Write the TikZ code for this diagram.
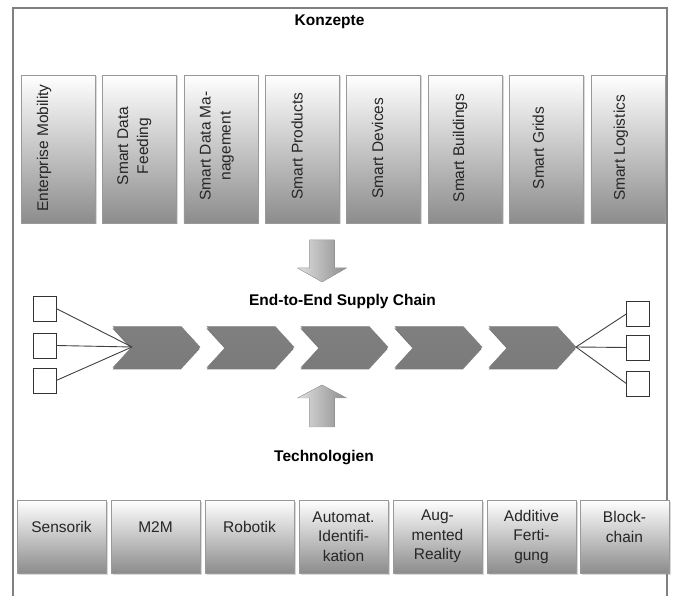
\documentclass[tikz,border=0pt]{standalone}
\usepackage{fontspec}
\setmainfont{Liberation Sans}
\usetikzlibrary{positioning,shapes.symbols,shadows}

\tikzset{
  konzept/.style={draw=black!40, top color=white, middle color=black!10, bottom color=black!45,
    minimum width=74pt, minimum height=148pt, inner sep=0pt,
    drop shadow={shadow xshift=1.5pt, shadow yshift=-1.5pt, opacity=0.3}},
  techbox/.style={draw=black!40, top color=white, middle color=black!10, bottom color=black!45,
    minimum width=89pt, minimum height=73pt, inner sep=0pt,
    drop shadow={shadow xshift=1.5pt, shadow yshift=-1.5pt, opacity=0.3}},
  ktext/.style={rotate=90, align=center, text=black!85, font=\fontsize{15.5}{20}\selectfont},
  ttext/.style={align=center, text=black!85, font=\fontsize{15.5}{19.5}\selectfont},
  titel/.style={font=\fontsize{15.5}{18}\selectfont\bfseries},
  chevron/.style={signal, signal from=west, signal to=east, signal pointer angle=95,
    minimum width=87pt, minimum height=41pt, inner sep=0pt, draw=black!50,
    top color=black!50, middle color=black!36, bottom color=black!52,
    drop shadow={shadow xshift=-0.5pt, shadow yshift=-2pt, fill=black!75, opacity=0.7}},
  kiste/.style={draw=black!80, fill=white, minimum width=23pt, minimum height=25pt, inner sep=0pt},
  wire/.style={draw=black!75, line width=0.9pt},
  blockpfeil/.style={draw=black!35, left color=black!12, right color=black!45},
  rahmen/.style={draw=black!50, line width=1.5pt}
}

\begin{document}
\begin{tikzpicture}[x=1pt,y=-1pt]
\useasboundingbox (0,0) rectangle (673,596);
\draw[rahmen] (13,596) -- (13,8) -- (667,8) -- (667,596);

% Konzepte
\node[titel] (konzepte) at (329.5,22) {Konzepte};
\node[konzept] (k1) at (58,149) {};
\node[konzept] (k2) at (139.4,149) {};
\node[konzept] (k3) at (220.8,149) {};
\node[konzept] (k4) at (302.2,149) {};
\node[konzept] (k5) at (383.6,149) {};
\node[konzept] (k6) at (465,149) {};
\node[konzept] (k7) at (546.4,149) {};
\node[konzept] (k8) at (627.8,149) {};
\node[ktext] (k1t) at ([xshift=-14pt,yshift=1pt]k1.center) {Enterprise Mobility};
\node[ktext] (k2t) at ([xshift=-5pt,yshift=3pt]k2.center) {Smart Data\\Feeding};
\node[ktext] (k3t) at ([xshift=-4pt,yshift=3pt]k3.center) {Smart Data Ma-\\nagement};
\node[ktext] (k4t) at ([xshift=-5pt,yshift=3pt]k4.center) {Smart Products};
\node[ktext] (k5t) at ([xshift=-6pt,yshift=1pt]k5.center) {Smart Devices};
\node[ktext] (k6t) at ([xshift=-5pt,yshift=1pt]k6.center) {Smart Buildings};
\node[ktext] (k7t) at ([xshift=-8pt,yshift=1pt]k7.center) {Smart Grids};
\node[ktext] (k8t) at ([xshift=-7pt,yshift=1pt]k8.center) {Smart Logistics};

% arrows into the chain
\coordinate (dpfeil) at (322,240);
\coordinate (upfeil) at (322,427);
\filldraw[blockpfeil] (dpfeil) ++(-12.5,0) -- ++(25,0) -- ++(0,28) -- ++(12,0) -- ++(-24.5,14)
  -- ++(-24.5,-14) -- ++(12,0) -- cycle;
\filldraw[blockpfeil] (upfeil) ++(-12.5,0) -- ++(25,0) -- ++(0,-29) -- ++(12,0) -- ++(-24.5,-13)
  -- ++(-24.5,13) -- ++(12,0) -- cycle;

\node[titel] (kette) at (342.5,301) {End-to-End Supply Chain};

% chain
\node[chevron] (c1) at (156.5,347) {};
\node[chevron] (c2) at (250.5,347) {};
\node[chevron] (c3) at (344.5,347) {};
\node[chevron] (c4) at (438.5,347) {};
\node[chevron] (c5) at (532.5,347) {};
\coordinate (notch) at ([xshift=-24.5pt]c1.center);
\coordinate (spitze) at ([xshift=43.5pt]c5.center);

\node[kiste] (l1) at (44.5,308.5) {};
\node[kiste] (l2) at (44.5,345.5) {};
\node[kiste] (l3) at (44.5,380.5) {};
\node[kiste] (r1) at (638,314) {};
\node[kiste] (r2) at (638,347.5) {};
\node[kiste] (r3) at (638,383.5) {};
\draw[wire] (l1.east) -- (notch);
\draw[wire] (l2.east) -- (notch);
\draw[wire] (l3.east) -- (notch);
\draw[wire] (spitze) -- (r1.west);
\draw[wire] (spitze) -- (r2.west);
\draw[wire] (spitze) -- (r3.west);

% Technologien
\node[titel] (technologien) at (324,458) {Technologien};
\node[techbox] (t1) at (61.5,536.5) {};
\node[techbox] (t2) at (155.5,536.5) {};
\node[techbox] (t3) at (249.5,536.5) {};
\node[techbox] (t4) at (343.5,536.5) {};
\node[techbox] (t5) at (437.5,536.5) {};
\node[techbox] (t6) at (531.5,536.5) {};
\node[techbox] (t7) at (624.5,536.5) {};
\node[ttext] (t1t) at ([yshift=9.5pt]t1.center) {Sensorik};
\node[ttext] (t2t) at ([yshift=9.5pt]t2.center) {M2M};
\node[ttext] (t3t) at ([yshift=9.5pt]t3.center) {Robotik};
\node[ttext] (t4t) at (t4.center) {Automat.\\Identifi-\\kation};
\node[ttext] (t5t) at (t5.center) {Aug-\\mented\\Reality};
\node[ttext] (t6t) at (t6.center) {Additive\\Ferti-\\gung};
\node[ttext] (t7t) at ([yshift=9.5pt]t7.center) {Block-\\chain};
\end{tikzpicture}
\end{document}
